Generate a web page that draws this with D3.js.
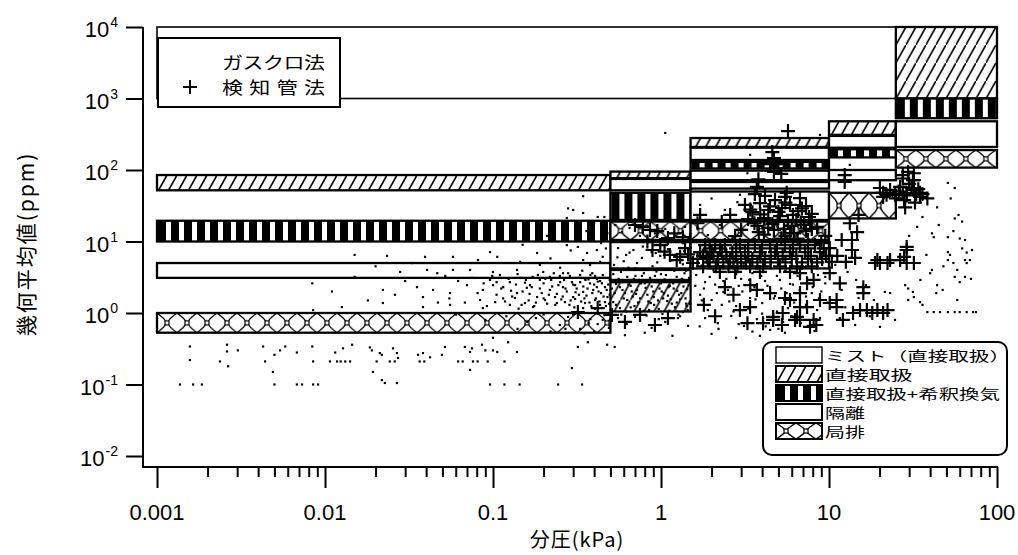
<!DOCTYPE html>
<html>
<head>
<meta charset="utf-8">
<script src="https://cdn.jsdelivr.net/npm/d3@7"></script>
<style>
  body { margin: 0; background: #fff; }
  svg { display: block; }
</style>
</head>
<body>
<svg id="chart" width="1018" height="555"></svg>
<script>
`use strict`;

// x: partial pressure (kPa), y: geometric mean (ppm)
const xTicks = [0.001, 0.01, 0.1, 1, 10, 100];
const xTickText = [`0.001`, `0.01`, `0.1`, `1`, `10`, `100`];
const yExponents = [-2, -1, 0, 1, 2, 3, 4];

// estimated bands: [kPa from, kPa to, ppm low, ppm high, type]
const bands = [
  [0.001, 25, 1000, 10000, `mist`],
  [0.001, 0.5, 52, 85, `direct`],
  [0.001, 0.5, 10, 19.5, `dilution`],
  [0.001, 0.5, 3.1, 5, `isolation`],
  [0.001, 0.5, 0.53, 1, `local`],
  [0.5, 1.5, 77, 95, `direct`],
  [0.5, 1.5, 52, 75, `isolation`],
  [0.5, 1.5, 20, 48, `dilution`],
  [0.5, 1.5, 10.5, 19, `local`],
  [0.5, 1.5, 4.2, 9.8, `isolation`],
  [0.5, 1.5, 2.9, 4, `isolation`],
  [0.5, 1.5, 1.05, 2.7, `direct`],
  [1.5, 10, 210, 280, `direct`],
  [1.5, 10, 138, 205, `isolation`],
  [1.5, 10, 105, 130, `dilution`],
  [1.5, 10, 72, 98, `isolation`],
  [1.5, 10, 55, 68, `isolation`],
  [1.5, 10, 20, 50, `isolation`],
  [1.5, 10, 10.5, 19, `local`],
  [1.5, 10, 4.2, 9.8, `isolation`],
  [10, 25, 310, 480, `direct`],
  [10, 25, 205, 300, `isolation`],
  [10, 25, 150, 195, `dilution`],
  [10, 25, 72, 100, `isolation`],
  [10, 25, 21, 48, `local`],
  [25, 100, 1000, 10000, `direct`],
  [25, 100, 530, 1000, `dilution`],
  [25, 100, 210, 480, `isolation`],
  [25, 100, 108, 190, `local`]
];

const legendLabels = [`ミスト（直接取扱）`, `直接取扱`, `直接取扱+希釈換気`, `隔離`, `局排`];
const legendTypes = [`mist`, `direct`, `dilution`, `isolation`, `local`];
const seriesLabels = [`ガスクロ法`, `検知管法`];

// ガスクロ法 [kPa, ppm]
const gcDots = [
  [0.00137,0.1],[0.00164,0.1],[0.00185,0.1],[0.00157,0.34],[0.00157,0.22],[0.00237,0.21],[0.00261,0.36],[0.00261,0.29],
  [0.00265,0.18],[0.00303,0.30],[0.00428,0.34],[0.0044,0.21],[0.0049,0.15],[0.0050,0.1],[0.0050,0.26],[0.0054,0.30],
  [0.0058,0.34],[0.0068,0.28],[0.0068,0.1],[0.0073,0.1],[0.0084,0.34],[0.0085,0.21],[0.0085,0.1],[0.0091,0.1],
  [0.0107,0.21],[0.0115,0.28],[0.0118,0.21],[0.0085,1.1],[0.0128,0.32],[0.0145,0.36],[0.0185,0.33],[0.019,0.30],
  [0.0212,0.275],[0.0218,0.26],[0.0254,0.32],[0.0268,0.275],[0.0272,0.235],[0.0193,0.15],[0.0218,0.115],[0.0227,0.105],
  [0.0268,0.105],[0.0358,0.26],[0.0383,0.275],[0.0422,0.24],[0.0497,0.26],[0.0518,0.335],[0.068,0.335],[0.073,0.285],
  [0.075,0.32],[0.086,0.36],[0.09,0.30],[0.10,0.30],[0.106,0.285],[0.123,0.39],[0.139,0.285],[0.073,0.16],
  [0.096,0.1],[0.117,0.1],[0.144,0.1],[0.244,0.1],[0.339,0.1],[0.295,0.17],[0.32,0.335],[0.367,0.39],[0.478,0.36],[0.53,0.335],
  [0.0124,0.21],[0.0132,0.21],[0.0141,0.21],[0.0203,0.21],[0.0243,0.21],[0.026,0.21],[0.0366,0.21],[0.039,0.21],
  [0.062,0.21],[0.066,0.21],[0.076,0.21],[0.081,0.21],[0.093,0.21],[0.117,0.21],
  [0.344,43],[0.28,29],[0.30,27.6],[0.344,25],[0.42,22],[0.46,22],[0.275,21.3],
  [0.0234,6.3],[0.0394,6.1],[0.0578,6.1],[0.0814,5.5],[0.096,7.1],[0.106,6.1],[0.183,6.9],[0.275,8.9],[0.32,8.4],
  [0.363,6.9],[0.415,7.6],[0.45,6.1],[0.344,5.5],
  [0.028,3.75],[0.0405,4.0],[0.0466,3.6],[0.0578,4.0],[0.073,4.0],[0.10,3.75],[0.139,4.0],[0.199,3.75],[0.261,3.6],[0.33,3.4],[0.39,3.6],
  [0.0084,2.6],[0.0221,2.1],[0.0261,1.8],[0.0353,2.3],[0.0383,1.67],[0.044,2.1],[0.0555,1.9],[0.07,2.45],[0.087,2.1],
  [0.10,2.45],[0.115,2.3],[0.139,1.9],[0.159,2.25],[0.183,1.67],[0.218,2.1],[0.261,2.3],[0.30,1.67],[0.344,1.97],[0.415,2.3],[0.48,1.67],
  [0.0126,1.21],[0.0221,1.38],[0.0383,1.21],[0.0555,1.3],[0.087,1.17],[0.126,1.3],[0.173,1.21],[0.24,1.38],[0.344,1.17],[0.434,1.3],[0.10,0.45],
  [0.096,2.9],[0.110,3.4],[0.126,2.7],[0.145,3.1],[0.166,2.45],[0.190,2.9],[0.218,3.2],[0.251,2.7],[0.287,3.3],[0.308,2.45],
  [0.353,3.0],[0.378,2.6],[0.405,3.3],[0.434,2.8],[0.464,2.3],[0.0837,1.52],[0.103,1.42],[0.135,1.62],[0.155,1.38],[0.204,1.52],
  [0.234,1.67],[0.268,1.42],[0.308,1.57],[0.353,1.38],[0.405,1.52],[0.464,1.42],[0.145,5.2],[0.190,4.7],[0.251,4.3],[0.378,4.7],[0.434,5.2],
  [0.055,1.6],[0.062,2.8],[0.068,1.4],[0.075,3.1],[0.081,1.9],[0.088,2.6],[0.092,1.25],[0.099,3.3],[0.105,1.8],[0.112,2.2],
  [0.118,1.45],[0.124,3.0],[0.13,1.7],[0.137,2.5],[0.142,1.15],[0.15,2.0],[0.157,2.9],[0.163,1.5],[0.17,2.3],[0.176,1.25],
  [0.185,3.4],[0.195,1.9],[0.2,2.6],[0.21,1.35],[0.225,2.35],[0.23,3.6],[0.24,1.85],[0.255,1.55],[0.265,2.9],[0.275,2.0],
  [0.285,1.3],[0.295,2.7],[0.31,1.95],[0.32,3.1],[0.335,1.45],[0.345,2.35],[0.36,1.75],[0.37,2.95],[0.385,1.25],[0.395,2.1],
  [0.41,1.6],[0.42,2.75],[0.44,1.9],[0.45,3.4],[0.47,1.25],[0.485,2.5],[0.495,1.8],
  [0.105,2.7],[0.115,1.6],[0.128,2.05],[0.14,3.5],[0.148,1.3],[0.155,2.65],[0.165,1.85],[0.172,3.2],[0.18,1.4],[0.19,2.2],
  [0.2,1.6],[0.205,3.0],[0.215,1.8],[0.222,2.9],[0.235,1.3],[0.245,2.45],[0.25,3.3],[0.26,1.7],[0.27,2.2],[0.28,3.6],
  [0.29,1.5],[0.3,2.5],[0.305,1.2],[0.315,2.2],[0.325,1.8],[0.33,2.7],[0.34,3.9],[0.35,1.6],[0.355,2.9],[0.365,2.2],
  [0.375,1.4],[0.38,3.4],[0.39,1.9],[0.4,2.5],[0.405,1.15],[0.415,3.0],[0.425,2.0],[0.43,1.45],[0.445,2.6],[0.455,1.7],
  [0.46,3.1],[0.475,2.1],[0.49,1.35],[0.495,2.9],
  [0.12,0.9],[0.16,0.75],[0.2,0.95],[0.25,0.68],[0.28,0.88],[0.33,0.6],[0.38,0.82],[0.42,0.7],[0.46,0.93],[0.49,0.62],
  [0.22,0.55],[0.35,0.52],[0.14,0.6],[0.09,0.8],[0.06,0.95],[0.3,0.95],[0.37,0.72],[0.45,0.8],[0.27,0.6],[0.18,0.85],[0.4,0.55],
  [0.011,2.0],[0.015,3.2],[0.018,1.5],[0.03,2.8],[0.033,5.0],[0.047,1.4],[0.052,3.3],[0.015,6.5],[0.02,4.5],
  [0.15,9],[0.21,12],[0.26,16],[0.31,11],[0.36,14],[0.4,18],[0.44,9.5],[0.48,13],[0.22,5.8],[0.29,7.5],[0.47,8.0],
  [0.535,17],[0.585,13.5],[0.65,15.5],[0.75,12],[0.83,16.5],[0.92,13],[1.06,15],[1.21,12],[1.39,16],
  [0.555,8.1],[0.62,6.5],[0.685,7.6],[0.77,5.9],[0.88,7.1],[0.99,6.3],[1.10,7.8],[1.26,6.7],[1.45,5.7],
  [0.525,4.7],[0.578,3.75],[0.64,4.3],[0.705,3.3],[0.80,4.0],[0.89,4.5],[1.0,3.5],[1.12,4.1],[1.24,3.2],[1.41,3.9],
  [0.54,2.55],[0.59,2.1],[0.66,2.4],[0.71,1.85],[0.81,2.25],[0.905,1.67],[1.01,2.0],[1.13,2.4],[1.28,1.8],[1.43,2.15],
  [0.52,1.42],[0.57,1.17],[0.63,1.52],[0.695,1.25],[0.79,1.07],[0.87,1.38],[0.97,1.14],[1.09,1.47],[1.21,1.2],[1.35,1.03],[1.49,1.34],
  [0.555,0.85],[0.625,0.70],[0.75,0.80],[0.88,0.62],[1.06,0.75],[1.26,0.85],[1.45,0.66],[0.61,0.49],[0.80,0.53],[1.17,0.48],
  [0.56,3.0],[0.66,2.8],[0.74,2.9],[0.86,3.1],[0.95,2.7],[1.05,2.95],[1.18,2.6],[1.33,3.0],[0.6,5.3],[0.72,5.0],[0.95,5.1],
  [1.15,5.4],[1.35,4.8],[0.53,1.9],[0.68,1.7],[0.9,2.0],[1.1,1.75],[1.4,1.6],[0.58,0.95],[0.82,0.92],[1.02,0.97],[1.3,0.9],
  [0.52,3.5],[0.57,2.3],[0.6,1.6],[0.63,3.2],[0.67,2.0],[0.7,4.2],[0.73,1.4],[0.76,2.6],[0.79,3.6],[0.83,1.8],[0.87,2.9],
  [0.91,1.3],[0.94,3.8],[0.98,2.2],[1.03,1.6],[1.07,3.4],[1.11,2.3],[1.16,1.35],[1.2,3.9],[1.25,2.05],[1.3,1.55],[1.34,2.7],
  [1.38,3.6],[1.42,1.25],[1.46,2.45],[0.55,6.0],[0.65,7.0],[0.78,8.5],[0.93,6.9],[1.08,9.0],[1.23,6.2],[1.37,7.3],
  [0.62,1.05],[0.7,0.88],[0.85,1.1],[0.97,0.82],[1.12,1.08],[1.27,0.95],[1.44,1.1],
  [0.51,2.2],[0.54,1.3],[0.56,4.0],[0.59,2.7],[0.61,1.9],[0.64,2.5],[0.66,1.2],[0.69,3.0],[0.72,2.1],[0.75,1.6],[0.77,3.3],
  [0.8,2.6],[0.84,1.45],[0.88,2.35],[0.92,3.3],[0.96,1.5],[1.0,2.6],[1.04,1.9],[1.09,2.8],[1.14,1.55],[1.19,2.2],[1.24,1.4],
  [1.29,2.9],[1.32,1.9],[1.36,2.35],[1.41,1.35],[1.47,3.1],
  [1.71,32.5],[2.0,40],[2.4,27.6],[2.85,35.5],[1.65,15.5],[1.9,12.3],[2.24,17],[2.66,11],[3.16,14.5],
  [1.71,7.6],[1.96,6.3],[2.3,8.1],[2.76,5.2],[3.3,7.1],[3.88,5.9],
  [1.62,3.4],[1.83,2.7],[2.05,4.0],[2.45,3.0],[2.9,2.4],[3.5,3.6],[4.16,2.8],[4.9,3.3],[5.86,2.55],
  [1.71,1.8],[2.0,1.52],[2.35,1.97],[2.8,1.25],[3.39,1.62],[4.0,1.38],[4.77,1.73],[5.7,1.17],[6.72,1.52],[7.9,1.9],
  [1.83,0.85],[2.18,0.72],[2.62,0.91],[3.12,0.66],[3.72,0.82],[4.46,0.58],[5.33,0.75],[6.36,0.94],[7.5,0.66],[8.84,0.85],
  [2.0,0.51],[2.8,0.45],[3.88,0.48],[5.47,0.53],
  [1.8,2.2],[2.1,2.5],[2.5,2.1],[3.0,3.0],[3.6,2.3],[4.3,1.9],[5.2,2.2],[6.2,1.4],[7.3,1.3],[8.5,1.1],[1.9,1.1],[2.3,1.3],
  [2.7,1.05],[3.3,1.15],[4.0,0.98],[4.9,1.05],[6.0,0.9],[1.75,4.6],[2.2,5.5],[2.6,4.4],[3.1,4.9],[3.7,4.2],[4.5,4.8],
  [5.5,3.9],[6.5,3.3],[7.6,2.6],[9.0,2.0],
  [1.6,2.4],[1.75,1.5],[1.95,3.2],[2.15,1.9],[2.35,2.8],[2.55,1.45],[2.8,3.5],[3.05,2.0],[3.35,2.9],[3.65,1.55],[3.95,3.3],
  [4.3,2.4],[4.7,1.6],[5.1,2.9],[5.6,1.9],[6.1,2.5],[6.7,2.1],[7.3,1.7],[8.0,2.3],[8.7,1.6],[9.5,2.6],[1.7,0.65],[2.2,0.6],
  [2.9,0.7],[3.5,0.55],[4.2,0.65],[5.0,0.6],[6.8,0.72],[8.2,0.56],[1.65,5.2],[2.45,6.4],[3.2,5.5],[4.4,6.2],[5.9,5.1],
  [7.2,4.4],[8.6,3.4],
  [10.9,4.7],[12.9,3.75],[11.9,2.1],[15.0,1.62],[16.6,2.45],[18.5,1.52],[21.5,1.97],[11.6,0.85],[14.3,0.68],[17.5,0.9],
  [20.1,0.64],[24.7,0.80],[9.5,3.2],[9.8,1.4],[12.5,1.2],[14.5,2.9],[19.5,1.1],
  [51,66],[56,56],[36,22],[56,21],[59,23.5],[33.5,16],[41,13],[42,11.5],[51,11.5],[60,11],[64.5,10.5],[71,7.6],[51,7.1],
  [52.5,6.5],[51,5.5],[55,5.0],[64.5,5.5],[66,5.0],[69,5.5],[41,4.0],[56,3.2],[60,2.7],[44,2.45],[40,3.6],[28.4,2.45],
  [29.6,2.2],[31.6,1.97],[32,1.67],[29.6,1.52],[34.8,1.42],[36,1.3],[38.5,1.03],[42,1.03],[45.8,1.03],[51,1.03],[56,1.03],
  [60,1.03],[66,1.03],[72,1.03],[43.5,1.9],[58,1.52],[47.5,2.1],[23.1,1.9],[64.5,3.2],
  [30,12],[45,17],[55,14],[62,8],[48,4.5],[58,4.0],[70,3.0],[38,6.5],[75,1.03],[35,2.9],[66,7.0],[44,30],[53,40],[62,19],
  [1.06,330],[3.39,163],[3.27,90],[8.84,310],[13.3,118],[3.88,56],[2.95,45]
];

// 検知管法 [kPa, ppm]
const tubePoints = [
  [5.7,350],[4.6,178],[4.7,147],[4.46,121],[5.0,121],[4.7,94],[5.2,88],[3.8,74],[3.72,58],[3.62,46],[5.6,48],
  [12.4,85],[12.4,68],[27.5,85],[32,90],[32,72],[26.5,58],[21,48],[23.1,52.6],[34.8,48],[29.6,94],[31.6,72],
  [27.5,76],[32,52.6],[20.1,56],[21,42],[28,38],[34.8,42],[38.5,40],[29,48],[24.7,45],[32.5,35],[28.4,30],
  [26,50],[29,44],[31,56],[34,54],[30,64],[27.5,46],[33,46],[36,46],[25,40],[22,45],
  [3.16,32.5],[3.5,25.7],[3.88,34.5],[4.35,27.6],[4.77,38],[5.25,29.4],[5.86,32.5],[6.55,26.6],[7.3,31.3],[7.9,24.3],
  [3.3,20.6],[3.75,16.5],[4.1,21.3],[4.6,17.6],[5.11,22.7],[5.7,18.8],[6.4,20],[7.1,17],[7.71,19.4],
  [3.0,14.5],[3.82,13.5],[4.7,14.5],[5.86,13.1],[7.3,14.0],[4.16,43.5],[5.47,42],[6.72,40.5],[2.58,23.5],[2.3,18.8],[2.76,11.9],
  [3.4,28],[3.9,24],[4.45,31],[5.0,26],[5.5,35],[6.1,23.5],[6.9,29],[7.6,22],[3.6,18],[4.35,15.5],[4.95,19],[5.4,15],
  [6.0,16.5],[6.8,18.5],[7.9,15],[4.1,12.5],[5.2,11],[6.2,13],
  [5.5,12],[6.5,11],[7.5,10.5],[8.5,16],[9.5,12],[9,9.5],
  [1.83,8.9],[2.10,8.9],[2.40,8.9],[2.95,8.9],[3.62,8.9],[4.46,8.9],[5.47,8.9],[6.72,8.9],[8.26,8.9],
  [1.95,8.0],[2.25,8.0],[2.8,8.0],[3.3,8.0],[4.0,8.0],[4.9,8.0],[6.1,8.0],[7.5,8.0],[9.3,8.0],
  [1.71,7.1],[2.0,7.1],[2.3,7.1],[2.66,7.1],[3.16,7.1],[3.88,7.1],[4.77,7.1],[5.86,7.1],[7.2,7.1],[8.84,7.1],
  [1.78,6.3],[2.05,6.3],[2.45,6.3],[2.8,6.3],[3.3,6.3],[3.9,6.3],[4.5,6.3],[5.3,6.3],[6.4,6.3],[7.8,6.3],[9.6,6.3],
  [1.65,5.7],[1.9,5.7],[2.18,5.7],[2.58,5.7],[3.0,5.7],[3.5,5.7],[4.16,5.7],[4.97,5.7],[6.0,5.7],[7.5,5.7],[9.1,5.7],
  [1.95,5.1],[2.35,5.1],[2.7,5.1],[3.2,5.1],[3.75,5.1],[4.5,5.1],[5.5,5.1],[6.9,5.1],[8.5,5.1],
  [1.78,4.5],[2.12,4.5],[2.52,4.5],[2.85,4.5],[3.39,4.5],[4.05,4.5],[5.11,4.5],[6.45,4.5],[7.9,4.5],
  [2.24,3.75],[2.76,3.75],[3.88,3.75],[5.86,3.75],
  [10.1,8.1],[11.2,6.3],[12.6,5.2],[13.7,7.6],[11.9,10.5],[10.4,5.2],[14.3,5.9],
  [19.4,5.5],[23.1,5.5],[29,7.6],[29,5.0],[32,5.0],[26.5,5.5],[20.1,5.0],[28,6.1],[29,8.4],[18.8,5.0],[22.3,5.0],
  [0.78,16],[0.86,14.5],[0.89,7.6],[1.13,6.5],[1.3,6.1],[1.49,10.5],[1.71,23.5],[1.65,18],[0.99,8.9],[1.10,11.2],
  [1.39,8.1],[1.24,5.5],[1.55,5.0],[1.87,6.1],[0.7,17],[0.95,14],[1.2,13],[1.35,11.5],[0.83,10],[1.05,7.2],[1.45,6.6],
  [3.27,0.72],[4.05,0.72],[4.65,0.88],[5.25,0.68],[6.28,0.80],[7.71,0.64],[6.72,1.21],[3.72,2.1],[4.46,1.9],[5.47,1.62],
  [6.72,1.9],[7.4,2.6],[10.1,1.38],[11.6,2.6],[16,2.3],[18.1,1.0],[21,1.0],[11.1,1.21],[13.9,1.0],[16,1.9],[15.3,1.1],
  [16.8,1.1],[19.4,1.1],[22.3,1.1],[11.1,1.52],[12.1,0.8],[6.72,3.6],[8.1,2.9],[10.1,3.6],[5.86,1.52],[7.4,1.21],
  [8.84,1.52],[5.3,1.0],[6.72,0.80],[8.1,0.80],[15,23.5],[13.3,18],[14.7,13.5],[13.7,10.5],[8.4,0.68],[2.95,1.1],
  [3.39,1.21],[6.45,0.88],[4.65,0.80],[2.4,2.3],[2.7,1.8],[3.4,2.45],[1.8,1.3],[2.1,0.9],
  [0.32,1.03],[0.42,1.17],[0.51,0.94],[0.61,0.75],[0.75,0.94],[0.92,0.68],[1.10,0.85]
];

const svg = d3.select(`#chart`);
const x = d3.scaleLog().domain([1e-3, 1e2]).range([157, 997]);
const y = d3.scaleLog().domain([1e-2, 1e4]).range([456, 27]);
const defs = svg.append(`defs`);
const jpFont = `"Noto Sans CJK JP", sans-serif`;
const numFont = `"Liberation Sans", Arial, sans-serif`;

// one pattern per box so the texture starts at the box's corner
const makeFill = (id, type, x0, y0, h) => {

  if (type === `mist` || type === `isolation`) return `#fff`;

  let p = defs.append(`pattern`).attr(`id`, id).attr(`patternUnits`, `userSpaceOnUse`).attr(`x`, x0).attr(`y`, y0);

  if (type === `direct`) {
    p.attr(`width`, 10).attr(`height`, 18);
    p.append(`rect`).attr(`width`, 10).attr(`height`, 18).attr(`fill`, `#fff`);
    p.append(`path`).attr(`d`, `M-1,19.8L11,-1.8`).attr(`stroke`, `#000`).attr(`stroke-width`, 1.6);
  }

  if (type === `dilution`) {
    p.attr(`width`, 13).attr(`height`, 8);
    p.append(`rect`).attr(`width`, 13).attr(`height`, 8).attr(`fill`, `#fff`);
    p.append(`rect`).attr(`x`, 1).attr(`width`, 8).attr(`height`, 8).attr(`fill`, `#000`);
  }

  if (type === `local`) {
    let m = h / 2;
    p.attr(`width`, 20).attr(`height`, h);
    p.append(`rect`).attr(`width`, 20).attr(`height`, h).attr(`fill`, `#fff`);
    p.append(`path`)
      .attr(`d`, `M0,0Q7,${m * 0.5} 10,${m}Q13,${m * 0.5} 20,0M0,${h}Q7,${m * 1.5} 10,${m}Q13,${m * 1.5} 20,${h}`)
      .attr(`fill`, `none`).attr(`stroke`, `#000`).attr(`stroke-width`, 1.4);
    p.append(`rect`).attr(`x`, 8).attr(`y`, m - 2).attr(`width`, 4).attr(`height`, 4)
      .attr(`fill`, `#fff`).attr(`stroke`, `#000`).attr(`stroke-width`, 1.2);
  }

  return `url(#${id})`;
};

/** bands **/

svg.append(`g`).attr(`class`, `bands`).selectAll(`rect`).data(bands).join(`rect`)
  .attr(`x`, d => x(d[0]))
  .attr(`y`, d => y(d[3]))
  .attr(`width`, d => x(d[1]) - x(d[0]))
  .attr(`height`, d => y(d[2]) - y(d[3]))
  .attr(`fill`, (d, i) => makeFill(`band${i}`, d[4], x(d[0]), y(d[3]), y(d[2]) - y(d[3])))
  .attr(`stroke`, `#000`)
  .attr(`stroke-width`, d => d[4] === `mist` ? 1.6 : 2.3);

/** points **/

svg.append(`g`).attr(`class`, `gc`).selectAll(`rect`).data(gcDots).join(`rect`)
  .attr(`x`, d => x(d[0]) - 1.1)
  .attr(`y`, d => y(d[1]) - 1.1)
  .attr(`width`, 2.2).attr(`height`, 2.2)
  .attr(`fill`, `#000`);

svg.append(`g`).attr(`class`, `tube`).selectAll(`path`).data(tubePoints).join(`path`)
  .attr(`d`, d => `M${x(d[0]) - 7},${y(d[1])}h14M${x(d[0])},${y(d[1]) - 7}v14`)
  .attr(`stroke`, `#000`).attr(`stroke-width`, 2.2).attr(`fill`, `none`);

/** axes **/

let minor = [];
[0.001, 0.01, 0.1, 1, 10].forEach(b => { for (let k = 2; k <= 9; k++) minor.push(b * k); });

let xAxis = svg.append(`g`).attr(`transform`, `translate(0,467)`);
xAxis.append(`g`).call(d3.axisBottom(x).tickValues(xTicks).tickSize(21).tickFormat(``));
xAxis.append(`g`).call(d3.axisBottom(x).tickValues(minor).tickSize(10).tickFormat(``));
xAxis.selectAll(`.domain`).remove();
xAxis.selectAll(`line`).attr(`stroke`, `#000`).attr(`stroke-width`, 2);
xAxis.append(`line`).attr(`x1`, 143).attr(`x2`, x(100) + 1).attr(`stroke`, `#000`).attr(`stroke-width`, 2);

svg.append(`g`).selectAll(`text`).data(xTicks).join(`text`)
  .attr(`x`, d => x(d)).attr(`y`, 520)
  .attr(`text-anchor`, `middle`)
  .style(`font-family`, numFont).style(`font-size`, `22px`)
  .text((d, i) => xTickText[i]);

let yAxis = svg.append(`g`).attr(`transform`, `translate(143,0)`);
yAxis.call(d3.axisLeft(y).tickValues(yExponents.map(e => Math.pow(10, e))).tickSize(17).tickFormat(``));
yAxis.select(`.domain`).remove();
yAxis.selectAll(`line`).attr(`stroke`, `#000`).attr(`stroke-width`, 2);
yAxis.append(`line`).attr(`y1`, y(1e4)).attr(`y2`, 468).attr(`stroke`, `#000`).attr(`stroke-width`, 2);

let yLab = svg.append(`g`).selectAll(`text`).data(yExponents).join(`text`)
  .attr(`x`, 118).attr(`y`, e => y(Math.pow(10, e)) + 10)
  .attr(`text-anchor`, `end`)
  .style(`font-family`, numFont);
yLab.append(`tspan`).style(`font-size`, `22px`).text(`10`);
yLab.append(`tspan`).attr(`dx`, 1).attr(`dy`, -10).style(`font-size`, `14px`).text(e => String(e));

svg.append(`text`).attr(`x`, 577).attr(`y`, 547).attr(`text-anchor`, `middle`)
  .style(`font-family`, jpFont).style(`font-size`, `20px`).style(`letter-spacing`, `1px`)
  .text(`分圧(kPa)`);

svg.append(`text`).attr(`transform`, `translate(25,244) rotate(-90)`).attr(`text-anchor`, `middle`)
  .attr(`dominant-baseline`, `central`)
  .style(`font-family`, jpFont).style(`font-size`, `21px`).style(`letter-spacing`, `2px`)
  .text(`幾何平均値(ppm)`);

/** legends **/

let leg1 = svg.append(`g`);
leg1.append(`rect`).attr(`x`, 158).attr(`y`, 38).attr(`width`, 182).attr(`height`, 69)
  .attr(`fill`, `#fff`).attr(`stroke`, `#000`).attr(`stroke-width`, 2);
leg1.selectAll(`text`).data(seriesLabels).join(`text`)
  .attr(`transform`, (d, i) => `translate(222,${69 + i * 25}) scale(1,0.82)`)
  .attr(`textLength`, 103).attr(`lengthAdjust`, `spacing`)
  .style(`font-family`, jpFont).style(`font-size`, `21px`)
  .text(d => d);
leg1.append(`path`).attr(`d`, `M183,87h14M190,80v14`).attr(`stroke`, `#000`).attr(`stroke-width`, 2);

let leg2 = svg.append(`g`);
leg2.append(`rect`).attr(`x`, 763).attr(`y`, 342).attr(`width`, 244).attr(`height`, 113).attr(`rx`, 9)
  .attr(`fill`, `#fff`).attr(`stroke`, `#000`).attr(`stroke-width`, 2);

let rows = leg2.selectAll(`g`).data(legendLabels).join(`g`);
rows.append(`rect`)
  .attr(`x`, 776).attr(`y`, (d, i) => 347 + i * 19)
  .attr(`width`, 46).attr(`height`, 16)
  .attr(`fill`, (d, i) => makeFill(`leg${i}`, legendTypes[i], 776, 347 + i * 19, 16))
  .attr(`stroke`, `#000`).attr(`stroke-width`, (d, i) => legendTypes[i] === `mist` ? 1.4 : 2);

// glyphs are squat in the original: widen them and keep each row inside its 19px slot
const rowWidths = [148, 70, 140, 0, 0];
rows.append(`text`)
  .attr(`transform`, (d, i) => `translate(825,${361 + i * 19}) scale(1.25,0.82)`)
  .style(`font-family`, jpFont).style(`font-size`, `16px`)
  .each(function (d, i) {
    if (rowWidths[i]) d3.select(this).attr(`textLength`, rowWidths[i]).attr(`lengthAdjust`, `spacingAndGlyphs`);
  })
  .text(d => d);
</script>
</body>
</html>
